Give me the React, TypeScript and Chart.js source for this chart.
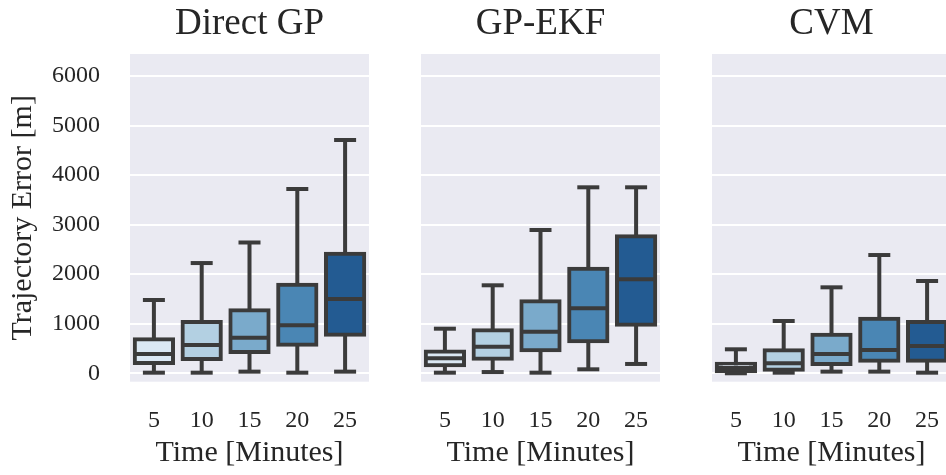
import React, { useEffect, useRef } from "react";
import { Chart, registerables } from "chart.js";

Chart.register(...registerables);

// Prediction horizons shared by all three panels
const timeLabels = ["5", "10", "15", "20", "25"];
const yTicks = [0, 1000, 2000, 3000, 4000, 5000, 6000];

// Box colours, light to dark blue, one per horizon
const boxColors = ["#dbe8f4", "#b3d0e2", "#7aaacb", "#4a86b4", "#235b92"];

// Direct GP: whisker ends, quartiles and medians [m]
const directLow = [12, 12, 33, 12, 33];
const directQ1 = [208, 289, 430, 577, 779];
const directMedian = [389, 571, 719, 968, 1500];
const directQ3 = [686, 1035, 1271, 1788, 2414];
const directHigh = [1479, 2225, 2640, 3720, 4709];

// GP-EKF
const ekfLow = [12, 25, 12, 80, 188];
const ekfQ1 = [163, 295, 464, 646, 981];
const ekfMedian = [302, 537, 840, 1311, 1897];
const ekfQ3 = [442, 868, 1453, 2111, 2765];
const ekfHigh = [900, 1776, 2892, 3754, 3754];

// CVM
const cvmLow = [0, 12, 33, 33, 12];
const cvmQ1 = [40, 73, 188, 254, 254];
const cvmMedian = [107, 202, 390, 470, 551];
const cvmQ3 = [194, 464, 779, 1102, 1035];
const cvmHigh = [484, 1055, 1735, 2387, 1863];

const LINE = "#3b3b3b";
const TEXT = "#262626";
const SERIF = "'Liberation Serif', 'Times New Roman', serif";
const Y_MIN = -170;
const Y_MAX = 6445;

const panelBackground = {
  id: "panelBackground",
  beforeDraw(chart: any) {
    const { ctx, chartArea } = chart;
    ctx.save();
    ctx.fillStyle = "#eaeaf2";
    ctx.fillRect(chartArea.left, chartArea.top, chartArea.right - chartArea.left, chartArea.bottom - chartArea.top);
    ctx.restore();
  },
};

type PanelProps = {
  title: string;
  low: number[];
  q1: number[];
  median: number[];
  q3: number[];
  high: number[];
  left: number;
  width: number;
  padLeft: number;
  padRight: number;
  yAxisWidth: number;
  showYLabels: boolean;
};

function BoxPanel(p: PanelProps) {
  const ref = useRef<HTMLCanvasElement | null>(null);

  useEffect(() => {
    if (!ref.current) return;
    const boxes = p.q1.map((v, i) => [v, p.q3[i]]);
    const whiskers = p.low.map((v, i) => [v, p.high[i]]);

    const chart = new Chart(ref.current, {
      type: "bar",
      data: {
        labels: timeLabels,
        datasets: [
          {
            type: "line",
            data: p.median,
            showLine: false,
            pointStyle: "line",
            pointRadius: 19,
            pointBorderWidth: 4,
            pointBorderColor: LINE,
            pointBackgroundColor: LINE,
            clip: false,
            order: 0,
          } as any,
          {
            type: "line",
            data: p.high,
            showLine: false,
            pointStyle: "line",
            pointRadius: 11,
            pointBorderWidth: 4,
            pointBorderColor: LINE,
            clip: false,
            order: 1,
          } as any,
          {
            type: "line",
            data: p.low,
            showLine: false,
            pointStyle: "line",
            pointRadius: 11,
            pointBorderWidth: 4,
            pointBorderColor: LINE,
            clip: false,
            order: 1,
          } as any,
          {
            type: "bar",
            data: boxes,
            backgroundColor: boxColors,
            borderColor: LINE,
            borderWidth: 4,
            borderSkipped: false,
            inflateAmount: 2,
            barPercentage: 0.8,
            categoryPercentage: 1,
            grouped: false,
            order: 2,
          } as any,
          {
            type: "bar",
            data: whiskers,
            backgroundColor: LINE,
            borderWidth: 0,
            barThickness: 4,
            inflateAmount: 0,
            grouped: false,
            order: 3,
          } as any,
        ],
      },
      options: {
        responsive: false,
        animation: false,
        events: [],
        layout: {
          autoPadding: false,
          padding: { left: p.padLeft, right: p.padRight, top: 0, bottom: 0 },
        },
        plugins: {
          legend: { display: false },
          tooltip: { enabled: false },
          title: {
            display: true,
            fullSize: false,
            text: p.title,
            color: TEXT,
            font: { family: SERIF, size: 37, weight: "normal" },
            padding: { top: 2.5, bottom: 7.1 },
          },
        },
        scales: {
          x: {
            offset: true,
            grid: { display: false },
            border: { display: false },
            ticks: {
              color: TEXT,
              font: { family: SERIF, size: 24 },
              padding: 17,
              maxRotation: 0,
            },
            title: {
              display: true,
              text: "Time [Minutes]",
              color: TEXT,
              font: { family: SERIF, size: 30 },
              padding: { top: 0, bottom: 4 },
            },
            afterFit(scale: any) {
              scale.height = 93.3;
              scale.paddingLeft = 0;
              scale.paddingRight = 0;
            },
          },
          y: {
            min: Y_MIN,
            max: Y_MAX,
            grid: { color: "#ffffff", lineWidth: 2, drawTicks: false },
            border: { display: false },
            ticks: {
              display: p.showYLabels,
              color: TEXT,
              font: { family: SERIF, size: 24 },
              padding: 30,
              callback: (v: any) => String(v),
            },
            title: {
              display: p.showYLabels,
              text: "Trajectory Error [m]",
              color: TEXT,
              font: { family: SERIF, size: 30 },
              padding: { top: 5, bottom: 0 },
            },
            afterBuildTicks(scale: any) {
              scale.ticks = yTicks.map((v) => ({ value: v }));
            },
            afterFit(scale: any) {
              scale.width = p.yAxisWidth;
              scale.paddingTop = 0;
              scale.paddingBottom = 0;
            },
          },
        },
      } as any,
      plugins: [panelBackground],
    });

    return () => chart.destroy();
  }, []);

  return (
    <canvas
      ref={ref}
      width={p.width}
      height={475}
      style={{ position: "absolute", left: p.left, top: 0, width: p.width, height: 475 }}
    />
  );
}

export default function App() {
  return (
    <div
      style={{
        position: "fixed",
        left: 0,
        top: 0,
        width: 946,
        height: 475,
        overflow: "hidden",
        background: "#ffffff",
      }}
    >
      <BoxPanel
        title="Direct GP"
        low={directLow}
        q1={directQ1}
        median={directMedian}
        q3={directQ3}
        high={directHigh}
        left={0}
        width={380}
        padLeft={0}
        padRight={11}
        yAxisWidth={130}
        showYLabels={true}
      />
      <BoxPanel
        title="GP-EKF"
        low={ekfLow}
        q1={ekfQ1}
        median={ekfMedian}
        q3={ekfQ3}
        high={ekfHigh}
        left={400}
        width={270}
        padLeft={21}
        padRight={10}
        yAxisWidth={0}
        showYLabels={false}
      />
      <BoxPanel
        title="CVM"
        low={cvmLow}
        q1={cvmQ1}
        median={cvmMedian}
        q3={cvmQ3}
        high={cvmHigh}
        left={690}
        width={272}
        padLeft={22}
        padRight={11}
        yAxisWidth={0}
        showYLabels={false}
      />
    </div>
  );
}
